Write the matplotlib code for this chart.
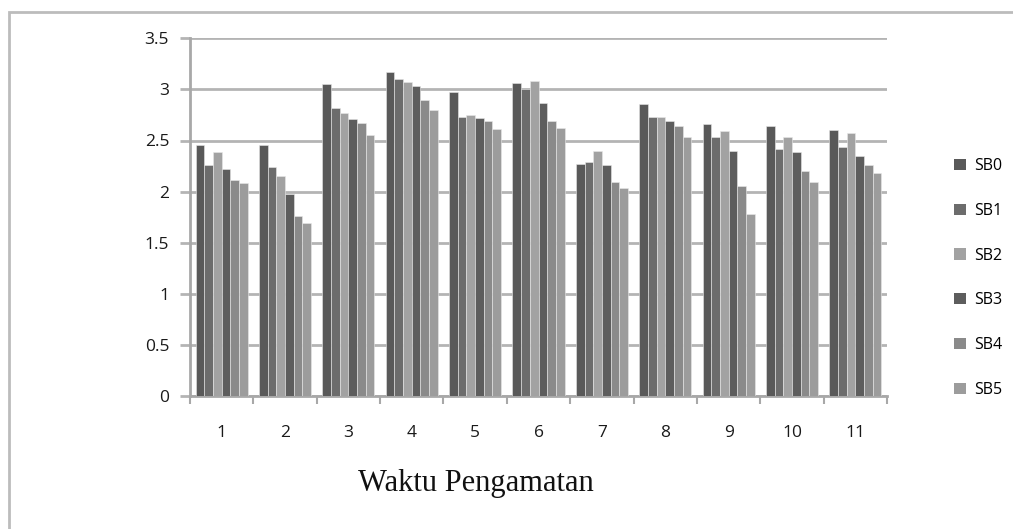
import numpy as np
import matplotlib.pyplot as plt
from matplotlib.patches import Rectangle, Patch

# data
categories = ['1', '2', '3', '4', '5', '6', '7', '8', '9', '10', '11']
series_names = ['SB0', 'SB1', 'SB2', 'SB3', 'SB4', 'SB5']
sb0 = [2.46, 2.46, 3.05, 3.17, 2.97, 3.06, 2.27, 2.86, 2.66, 2.64, 2.60]
sb1 = [2.26, 2.24, 2.82, 3.10, 2.73, 3.00, 2.29, 2.73, 2.53, 2.42, 2.44]
sb2 = [2.39, 2.15, 2.77, 3.07, 2.75, 3.08, 2.40, 2.73, 2.59, 2.53, 2.57]
sb3 = [2.22, 1.98, 2.71, 3.03, 2.72, 2.87, 2.26, 2.69, 2.40, 2.39, 2.35]
sb4 = [2.11, 1.76, 2.67, 2.90, 2.69, 2.69, 2.09, 2.64, 2.05, 2.20, 2.26]
sb5 = [2.08, 1.69, 2.55, 2.80, 2.61, 2.62, 2.04, 2.53, 1.78, 2.09, 2.18]
series = [sb0, sb1, sb2, sb3, sb4, sb5]

colors = ['#595959', '#6c6c6c', '#a2a2a2', '#5d5d5d', '#8a8a8a', '#9c9c9c']

W, H = 1013, 529
fig = plt.figure(figsize=(W / 100, H / 100), dpi=100)
fig.patch.set_facecolor('white')

# outer chart border (runs past right/bottom edge like the screenshot)
fig.patches.append(Rectangle((9 / W, -0.05), 1.2, 1 - 12 / H + 0.05,
                             transform=fig.transFigure, fill=False,
                             edgecolor='#bcbcbc', linewidth=2))

ax = fig.add_axes([190 / W, 1 - 396 / H, (887 - 190) / W, (396 - 38.3) / H])

x = np.arange(len(categories))
bw = 0.137
for i, (name, vals) in enumerate(zip(series_names, series)):
    ax.bar(x + (i - 2.5) * bw, vals, width=bw, color=colors[i],
           edgecolor='#e8e8e8', linewidth=0.4, label=name, zorder=3)

ax.set_xlim(-0.5, len(categories) - 0.5)
ax.set_ylim(0, 3.5)
ax.set_yticks(np.arange(0, 3.51, 0.5))
ax.set_yticklabels(['0', '0.5', '1', '1.5', '2', '2.5', '3', '3.5'])
ax.yaxis.grid(True, color='#b4b4b4', linewidth=2, zorder=0)

# category labels centred, tick marks at boundaries
ax.set_xticks(x)
ax.set_xticklabels(categories)
ax.set_xticks(np.arange(-0.5, len(categories), 1), minor=True)
ax.tick_params(axis='x', which='major', length=0, pad=21)
ax.tick_params(axis='x', which='minor', length=6, width=1.5, color='#a8a8a8', direction='out')
ax.tick_params(axis='y', length=7, width=2, color='#b4b4b4', pad=8)
for lbl in ax.get_xticklabels() + ax.get_yticklabels():
    lbl.set_fontfamily('Open Sans')
    lbl.set_fontsize(12.5)
    lbl.set_color('#1a1a1a')

for s in ['top', 'right']:
    ax.spines[s].set_visible(False)
ax.spines['left'].set_color('#a8a8a8')
ax.spines['left'].set_linewidth(2)
ax.spines['bottom'].set_color('#a8a8a8')
ax.spines['bottom'].set_linewidth(2)
ax.set_axisbelow(True)

fig.text(476 / W, 1 - 484 / H, 'Waktu Pengamatan', family='Liberation Serif',
         fontsize=22, ha='center', va='center', color='#111111')

handles = [Patch(facecolor=c, edgecolor='none') for c in colors]
leg = fig.legend(handles, series_names, loc='center left',
                 bbox_to_anchor=(940 / W, 1 - 278 / H), frameon=False,
                 handlelength=0.7, handleheight=0.7, handletextpad=0.55,
                 labelspacing=1.8, prop={'family': 'Open Sans', 'size': 11.5})

plt.savefig('out.png', dpi=100, facecolor='white')
